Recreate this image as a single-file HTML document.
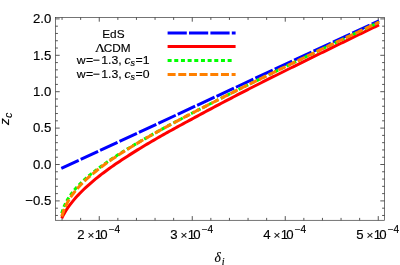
<!DOCTYPE html>
<html><head><meta charset="utf-8"><title>plot</title>
<style>html,body{margin:0;padding:0;background:#fff;}svg{display:block;}svg{will-change:transform}</style></head>
<body><svg width="400" height="265" viewBox="0 0 400 265">
<defs><clipPath id="c"><rect x="55.5" y="17.5" width="329.0" height="202.8"/></clipPath></defs>
<rect width="400" height="265" fill="#fff"/>
<rect x="55.5" y="17.5" width="329.0" height="202.8" fill="none" stroke="#3a3a3a" stroke-width="0.7"/>
<path d="M62.05 220.3 v-2.4 M62.05 17.5 v2.4 M80.65 220.3 v-2.4 M80.65 17.5 v2.4 M99.25 220.3 v-4.2 M99.25 17.5 v4.2 M117.85 220.3 v-2.4 M117.85 17.5 v2.4 M136.45 220.3 v-2.4 M136.45 17.5 v2.4 M155.05 220.3 v-2.4 M155.05 17.5 v2.4 M173.65 220.3 v-2.4 M173.65 17.5 v2.4 M192.25 220.3 v-4.2 M192.25 17.5 v4.2 M210.85 220.3 v-2.4 M210.85 17.5 v2.4 M229.45 220.3 v-2.4 M229.45 17.5 v2.4 M248.05 220.3 v-2.4 M248.05 17.5 v2.4 M266.65 220.3 v-2.4 M266.65 17.5 v2.4 M285.25 220.3 v-4.2 M285.25 17.5 v4.2 M303.85 220.3 v-2.4 M303.85 17.5 v2.4 M322.45 220.3 v-2.4 M322.45 17.5 v2.4 M341.05 220.3 v-2.4 M341.05 17.5 v2.4 M359.65 220.3 v-2.4 M359.65 17.5 v2.4 M378.25 220.3 v-4.2 M378.25 17.5 v4.2 M55.5 215.46 h2.4 M384.5 215.46 h-2.4 M55.5 208.18 h2.4 M384.5 208.18 h-2.4 M55.5 200.90 h4.2 M384.5 200.90 h-4.2 M55.5 193.62 h2.4 M384.5 193.62 h-2.4 M55.5 186.34 h2.4 M384.5 186.34 h-2.4 M55.5 179.06 h2.4 M384.5 179.06 h-2.4 M55.5 171.78 h2.4 M384.5 171.78 h-2.4 M55.5 164.50 h4.2 M384.5 164.50 h-4.2 M55.5 157.22 h2.4 M384.5 157.22 h-2.4 M55.5 149.94 h2.4 M384.5 149.94 h-2.4 M55.5 142.66 h2.4 M384.5 142.66 h-2.4 M55.5 135.38 h2.4 M384.5 135.38 h-2.4 M55.5 128.10 h4.2 M384.5 128.10 h-4.2 M55.5 120.82 h2.4 M384.5 120.82 h-2.4 M55.5 113.54 h2.4 M384.5 113.54 h-2.4 M55.5 106.26 h2.4 M384.5 106.26 h-2.4 M55.5 98.98 h2.4 M384.5 98.98 h-2.4 M55.5 91.70 h4.2 M384.5 91.70 h-4.2 M55.5 84.42 h2.4 M384.5 84.42 h-2.4 M55.5 77.14 h2.4 M384.5 77.14 h-2.4 M55.5 69.86 h2.4 M384.5 69.86 h-2.4 M55.5 62.58 h2.4 M384.5 62.58 h-2.4 M55.5 55.30 h4.2 M384.5 55.30 h-4.2 M55.5 48.02 h2.4 M384.5 48.02 h-2.4 M55.5 40.74 h2.4 M384.5 40.74 h-2.4 M55.5 33.46 h2.4 M384.5 33.46 h-2.4 M55.5 26.18 h2.4 M384.5 26.18 h-2.4 M55.5 18.90 h4.2 M384.5 18.90 h-4.2" stroke="#2c2c2c" stroke-width="0.8" fill="none"/>
<g fill="none" stroke-width="3.0" clip-path="url(#c)">
<path d="M61.3 168.46 L379.0 20.74" stroke="#0000ff" stroke-dasharray="19.2 2.2"/>
<path d="M61.70 218.28 L63.70 214.38 L65.69 210.99 L67.69 207.95 L69.68 205.16 L71.68 202.56 L73.67 200.12 L75.67 197.81 L77.66 195.61 L79.66 193.50 L81.66 191.48 L83.65 189.53 L85.65 187.64 L87.64 185.80 L89.64 184.02 L91.63 182.29 L93.63 180.60 L95.63 178.94 L97.62 177.32 L99.62 175.74 L101.61 174.19 L103.61 172.68 L105.60 171.19 L107.60 169.73 L109.59 168.29 L111.59 166.87 L113.59 165.47 L115.58 164.09 L117.58 162.73 L119.57 161.39 L121.57 160.06 L123.56 158.74 L125.56 157.44 L127.55 156.15 L129.55 154.88 L131.55 153.61 L133.54 152.36 L135.54 151.12 L137.53 149.89 L139.53 148.67 L141.52 147.46 L143.52 146.26 L145.52 145.06 L147.51 143.88 L149.51 142.70 L151.50 141.53 L153.50 140.37 L155.49 139.21 L157.49 138.06 L159.48 136.92 L161.48 135.79 L163.48 134.65 L165.47 133.53 L167.47 132.41 L169.46 131.30 L171.46 130.19 L173.45 129.08 L175.45 127.98 L177.44 126.89 L179.44 125.80 L181.44 124.71 L183.43 123.63 L185.43 122.55 L187.42 121.48 L189.42 120.41 L191.41 119.32 L193.41 118.23 L195.41 117.15 L197.40 116.06 L199.40 114.98 L201.39 113.91 L203.39 112.83 L205.38 111.76 L207.38 110.69 L209.37 109.63 L211.37 108.56 L213.37 107.50 L215.36 106.44 L217.36 105.39 L219.35 104.33 L221.35 103.28 L223.34 102.23 L225.34 101.19 L227.33 100.14 L229.33 99.10 L231.33 98.06 L233.32 97.02 L235.32 95.98 L237.31 94.95 L239.31 93.92 L241.30 92.88 L243.30 91.85 L245.29 90.83 L247.29 89.80 L249.29 88.77 L251.28 87.76 L253.28 86.75 L255.27 85.74 L257.27 84.73 L259.26 83.72 L261.26 82.72 L263.26 81.71 L265.25 80.71 L267.25 79.71 L269.24 78.71 L271.24 77.71 L273.23 76.71 L275.23 75.72 L277.22 74.72 L279.22 73.73 L281.22 72.74 L283.21 71.74 L285.21 70.75 L287.20 69.76 L289.20 68.77 L291.19 67.78 L293.19 66.79 L295.18 65.80 L297.18 64.81 L299.18 63.83 L301.17 62.84 L303.17 61.85 L305.16 60.87 L307.16 59.88 L309.15 58.90 L311.15 57.92 L313.15 56.93 L315.14 55.95 L317.14 54.97 L319.13 53.99 L321.13 53.01 L323.12 52.03 L325.12 51.05 L327.11 50.08 L329.11 49.10 L331.11 48.12 L333.10 47.15 L335.10 46.17 L337.09 45.20 L339.09 44.22 L341.08 43.25 L343.08 42.28 L345.07 41.31 L347.07 40.33 L349.07 39.36 L351.06 38.39 L353.06 37.42 L355.05 36.45 L357.05 35.48 L359.04 34.51 L361.04 33.55 L363.04 32.58 L365.03 31.61 L367.03 30.64 L369.02 29.68 L371.02 28.71 L373.01 27.75 L375.01 26.78 L377.00 25.82 L379.00 24.85" stroke="#ff0000"/>
<path d="M61.70 213.24 L63.70 207.36 L65.69 202.97 L67.69 199.34 L69.68 196.20 L71.68 193.39 L73.67 190.84 L75.67 188.48 L77.66 186.28 L79.66 184.21 L81.66 182.25 L83.65 180.38 L85.65 178.58 L87.64 176.86 L89.64 175.19 L91.63 173.58 L93.63 172.01 L95.63 170.48 L97.62 168.94 L99.62 167.44 L101.61 165.98 L103.61 164.54 L105.60 163.13 L107.60 161.74 L109.59 160.38 L111.59 159.03 L113.59 157.71 L115.58 156.40 L117.58 155.11 L119.57 153.84 L121.57 152.58 L123.56 151.34 L125.56 150.10 L127.55 148.88 L129.55 147.67 L131.55 146.48 L133.54 145.29 L135.54 144.11 L137.53 142.94 L139.53 141.78 L141.52 140.63 L143.52 139.48 L145.52 138.35 L147.51 137.22 L149.51 136.09 L151.50 134.97 L153.50 133.85 L155.49 132.74 L157.49 131.64 L159.48 130.54 L161.48 129.44 L163.48 128.35 L165.47 127.27 L167.47 126.19 L169.46 125.11 L171.46 124.04 L173.45 122.97 L175.45 121.90 L177.44 120.84 L179.44 119.79 L181.44 118.73 L183.43 117.68 L185.43 116.63 L187.42 115.59 L189.42 114.55 L191.41 113.51 L193.41 112.47 L195.41 111.44 L197.40 110.40 L199.40 109.37 L201.39 108.35 L203.39 107.32 L205.38 106.30 L207.38 105.28 L209.37 104.26 L211.37 103.24 L213.37 102.23 L215.36 101.21 L217.36 100.20 L219.35 99.19 L221.35 98.19 L223.34 97.18 L225.34 96.18 L227.33 95.17 L229.33 94.17 L231.33 93.17 L233.32 92.17 L235.32 91.17 L237.31 90.18 L239.31 89.18 L241.30 88.19 L243.30 87.20 L245.29 86.21 L247.29 85.22 L249.29 84.23 L251.28 83.25 L253.28 82.27 L255.27 81.30 L257.27 80.32 L259.26 79.35 L261.26 78.38 L263.26 77.41 L265.25 76.44 L267.25 75.47 L269.24 74.50 L271.24 73.54 L273.23 72.57 L275.23 71.60 L277.22 70.64 L279.22 69.67 L281.22 68.71 L283.21 67.75 L285.21 66.78 L287.20 65.82 L289.20 64.86 L291.19 63.90 L293.19 62.93 L295.18 61.96 L297.18 61.00 L299.18 60.03 L301.17 59.06 L303.17 58.10 L305.16 57.13 L307.16 56.17 L309.15 55.21 L311.15 54.24 L313.15 53.28 L315.14 52.32 L317.14 51.36 L319.13 50.40 L321.13 49.44 L323.12 48.48 L325.12 47.52 L327.11 46.58 L329.11 45.64 L331.11 44.70 L333.10 43.76 L335.10 42.82 L337.09 41.88 L339.09 40.94 L341.08 40.00 L343.08 39.07 L345.07 38.13 L347.07 37.19 L349.07 36.25 L351.06 35.32 L353.06 34.38 L355.05 33.45 L357.05 32.51 L359.04 31.57 L361.04 30.64 L363.04 29.70 L365.03 28.77 L367.03 27.84 L369.02 26.90 L371.02 25.97 L373.01 25.03 L375.01 24.10 L377.00 23.17 L379.00 22.23" stroke="#00ff00" stroke-dasharray="4 2.67"/>
<path d="M61.70 216.55 L63.70 210.44 L65.69 205.84 L67.69 202.01 L69.68 198.69 L71.68 195.71 L73.67 193.00 L75.67 190.50 L77.66 188.16 L79.66 185.96 L81.66 183.87 L83.65 181.89 L85.65 179.99 L87.64 178.17 L89.64 176.41 L91.63 174.72 L93.63 173.07 L95.63 171.46 L97.62 169.86 L99.62 168.30 L101.61 166.77 L103.61 165.28 L105.60 163.82 L107.60 162.39 L109.59 160.98 L111.59 159.59 L113.59 158.23 L115.58 156.89 L117.58 155.56 L119.57 154.26 L121.57 152.97 L123.56 151.70 L125.56 150.44 L127.55 149.20 L129.55 147.97 L131.55 146.75 L133.54 145.54 L135.54 144.35 L137.53 143.16 L139.53 141.98 L141.52 140.82 L143.52 139.66 L145.52 138.51 L147.51 137.37 L149.51 136.24 L151.50 135.11 L153.50 133.98 L155.49 132.86 L157.49 131.75 L159.48 130.64 L161.48 129.54 L163.48 128.44 L165.47 127.35 L167.47 126.26 L169.46 125.18 L171.46 124.10 L173.45 123.03 L175.45 121.96 L177.44 120.90 L179.44 119.84 L181.44 118.78 L183.43 117.72 L185.43 116.67 L187.42 115.63 L189.42 114.58 L191.41 113.54 L193.41 112.50 L195.41 111.46 L197.40 110.43 L199.40 109.40 L201.39 108.37 L203.39 107.34 L205.38 106.32 L207.38 105.30 L209.37 104.28 L211.37 103.26 L213.37 102.24 L215.36 101.23 L217.36 100.22 L219.35 99.21 L221.35 98.20 L223.34 97.19 L225.34 96.18 L227.33 95.18 L229.33 94.18 L231.33 93.18 L233.32 92.18 L235.32 91.18 L237.31 90.18 L239.31 89.19 L241.30 88.20 L243.30 87.20 L245.29 86.21 L247.29 85.22 L249.29 84.23 L251.28 83.25 L253.28 82.27 L255.27 81.30 L257.27 80.33 L259.26 79.35 L261.26 78.38 L263.26 77.41 L265.25 76.44 L267.25 75.47 L269.24 74.50 L271.24 73.54 L273.23 72.57 L275.23 71.60 L277.22 70.64 L279.22 69.67 L281.22 68.71 L283.21 67.75 L285.21 66.79 L287.20 65.82 L289.20 64.86 L291.19 63.90 L293.19 62.93 L295.18 61.96 L297.18 61.00 L299.18 60.03 L301.17 59.06 L303.17 58.10 L305.16 57.14 L307.16 56.17 L309.15 55.21 L311.15 54.25 L313.15 53.28 L315.14 52.32 L317.14 51.36 L319.13 50.40 L321.13 49.44 L323.12 48.48 L325.12 47.52 L327.11 46.58 L329.11 45.64 L331.11 44.70 L333.10 43.76 L335.10 42.82 L337.09 41.88 L339.09 40.94 L341.08 40.00 L343.08 39.07 L345.07 38.13 L347.07 37.19 L349.07 36.25 L351.06 35.32 L353.06 34.38 L355.05 33.45 L357.05 32.51 L359.04 31.57 L361.04 30.64 L363.04 29.70 L365.03 28.77 L367.03 27.84 L369.02 26.90 L371.02 25.97 L373.01 25.03 L375.01 24.10 L377.00 23.17 L379.00 22.23" stroke="#ff8000" stroke-dasharray="8 2.67"/>
</g>
<g fill="none" stroke-width="3.0">
<path d="M167.6 33 H235.6" stroke="#0000ff" stroke-dasharray="19.2 2.2"/>
<path d="M167.6 46.6 H235.6" stroke="#ff0000"/>
<path d="M167.6 60.5 H232.1" stroke="#00ff00" stroke-dasharray="4 2.67"/>
<path d="M167.6 74.4 H235.6" stroke="#ff8000" stroke-dasharray="8 2.67"/>
</g>
<g font-family="Liberation Sans, sans-serif" fill="#000" stroke="#000" stroke-width="0.15" font-size="13.2">
<text x="51.3" y="23.20" text-anchor="end">2.0</text>
<text x="51.3" y="59.60" text-anchor="end">1.5</text>
<text x="51.3" y="96.00" text-anchor="end">1.0</text>
<text x="51.3" y="132.40" text-anchor="end">0.5</text>
<text x="51.3" y="168.80" text-anchor="end">0.0</text>
<text x="51.3" y="205.20" text-anchor="end">−0.5</text>
<text x="77.35" y="238.6">2</text>
<text x="90.90" y="239.1" font-size="11.8" text-anchor="middle">×</text>
<text x="94.85" y="238.6">1</text>
<text x="100.35" y="238.6">0</text>
<text x="108.65" y="233.3" font-size="10.1">−4</text>
<text x="170.35" y="238.6">3</text>
<text x="183.90" y="239.1" font-size="11.8" text-anchor="middle">×</text>
<text x="187.85" y="238.6">1</text>
<text x="193.35" y="238.6">0</text>
<text x="201.65" y="233.3" font-size="10.1">−4</text>
<text x="263.35" y="238.6">4</text>
<text x="276.90" y="239.1" font-size="11.8" text-anchor="middle">×</text>
<text x="280.85" y="238.6">1</text>
<text x="286.35" y="238.6">0</text>
<text x="294.65" y="233.3" font-size="10.1">−4</text>
<text x="356.35" y="238.6">5</text>
<text x="369.90" y="239.1" font-size="11.8" text-anchor="middle">×</text>
<text x="373.85" y="238.6">1</text>
<text x="379.35" y="238.6">0</text>
<text x="387.65" y="233.3" font-size="10.1">−4</text>
</g>
<g font-family="Liberation Sans, sans-serif" fill="#000" stroke="#000" stroke-width="0.15" font-size="11.8">
<text transform="translate(102.2,37.6) scale(1.0,1)" >EdS</text>
<text transform="translate(95.0,51.5) scale(1.12,1)" font-family="Liberation Serif, serif" font-size="12.4">Λ</text>
<text transform="translate(103.7,51.5) scale(1.0,1)" >CDM</text>
<text transform="translate(76.8,63.6) scale(1.04,1)" >w</text>
<text transform="translate(85.9,63.6) scale(1.04,1)" >=</text>
<text transform="translate(93.0,63.6) scale(1.04,1)" >−</text>
<text transform="translate(101.3,63.6) scale(1.04,1)" >1.3,</text>
<text transform="translate(124.4,63.6) scale(1.04,1)" font-style="italic">c</text>
<text transform="translate(130.4,65.8) scale(1.04,1)" font-style="italic" font-size="8.6">s</text>
<text transform="translate(135.5,63.6) scale(1.04,1)" >=</text>
<text transform="translate(142.8,63.6) scale(1.04,1)" >1</text>
<text transform="translate(76.8,77.6) scale(1.04,1)" >w</text>
<text transform="translate(85.9,77.6) scale(1.04,1)" >=</text>
<text transform="translate(93.0,77.6) scale(1.04,1)" >−</text>
<text transform="translate(101.3,77.6) scale(1.04,1)" >1.3,</text>
<text transform="translate(124.4,77.6) scale(1.04,1)" font-style="italic">c</text>
<text transform="translate(130.4,79.8) scale(1.04,1)" font-style="italic" font-size="8.6">s</text>
<text transform="translate(135.5,77.6) scale(1.04,1)" >=</text>
<text transform="translate(142.8,77.6) scale(1.04,1)" >0</text>
</g>
<text transform="translate(9.4,125.1) rotate(-90)" font-family="Liberation Sans, sans-serif" font-style="italic" font-size="13.6" fill="#000" stroke="#000" stroke-width="0.15">z<tspan font-size="10" dy="2.6" dx="0.6">c</tspan></text>
<text x="214.5" y="261.8" font-family="Liberation Serif, serif" font-style="italic" font-size="13.6" fill="#000" stroke="#000" stroke-width="0.15">δ<tspan font-size="10.2" dy="3.2" dx="0.9">i</tspan></text>
</svg></body></html>
